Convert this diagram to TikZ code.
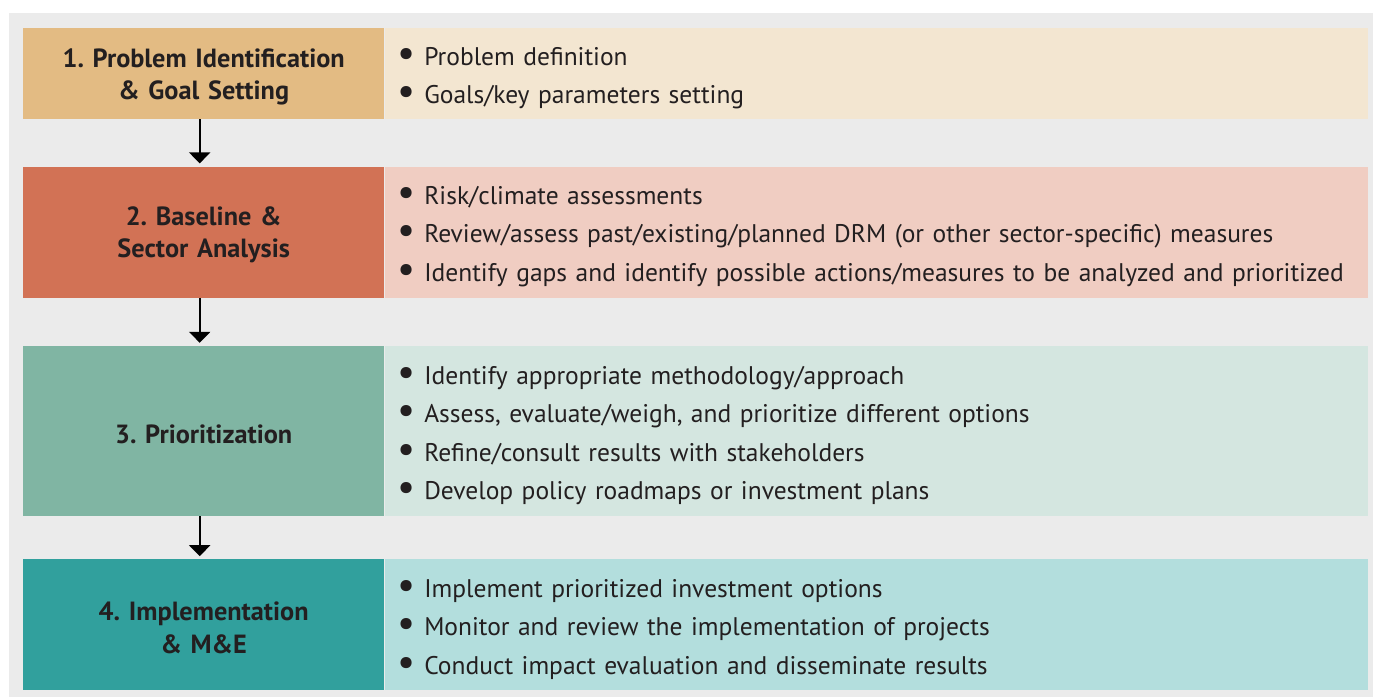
\documentclass[tikz,border=0pt]{standalone}
\usepackage{fontspec}
\setmainfont{PT Sans}
\usetikzlibrary{arrows.meta,positioning,shapes}
\definecolor{panel}{HTML}{EBEBEB}
\definecolor{ink}{HTML}{231F20}
\definecolor{goal}{HTML}{E3BB83}
\definecolor{goal2}{HTML}{F3E6D1}
\definecolor{base}{HTML}{D27255}
\definecolor{base2}{HTML}{F0CDC2}
\definecolor{prio}{HTML}{80B5A3}
\definecolor{prio2}{HTML}{D4E6E0}
\definecolor{impl}{HTML}{31A09D}
\definecolor{impl2}{HTML}{B3DEDD}
\newcommand{\itm}[1]{\raisebox{-1pt}{\fontsize{40}{39}\selectfont\textbullet}\hspace{8.6pt}#1}
\frenchspacing
\tikzset{
    %Define standard arrow tip
    >={Triangle[width=21pt,length=11pt]},
    %Define style for step boxes
    stage/.style={
        rectangle,
        minimum width=361pt,
        text width=345pt,
        inner sep=0pt,
        align=center,
        font=\fontsize{26.3}{32.3}\selectfont\bfseries,
        execute at begin node={\rule{0pt}{24.5pt}},
        text=ink
    },
    %Define style for task lists
    tasks/.style={
        rectangle,
        anchor=west,
        minimum width=983pt,
        text width=957pt,
        inner xsep=12.6pt,
        inner ysep=0pt,
        align=left,
        font=\fontsize{25.5}{38.5}\selectfont,
        execute at begin node={\rule{0pt}{27pt}},
        text=ink
    },
    % Define arrow style
    pil/.style={
        ->,
        line width=2pt,
        shorten >=3pt}
}
\begin{document}
\begin{tikzpicture}[x=1pt,y=1pt]
\useasboundingbox (0,0) rectangle (1373,-697);
\fill[panel] (9,-13) rectangle (1373,-697);
\node[stage, fill=goal, minimum height=91pt, anchor=north west] (s1) at (23,-28)
    {1. Problem Identification\\ \& Goal Setting};
\node[stage, fill=base, minimum height=131pt, below=47pt of s1] (s2)
    {2. Baseline \&\\ Sector Analysis};
\node[stage, fill=prio, minimum height=170pt, below=48pt of s2] (s3)
    {3. Prioritization};
\node[stage, fill=impl, minimum height=131pt, below=43pt of s3] (s4)
    {4. Implementation\\ \& M\&E};
\node[tasks, fill=goal2, minimum height=91pt] (t1) at (s1.east)
    {\itm{Problem definition}\\
     \itm{Goals/key parameters setting}};
\node[tasks, fill=base2, minimum height=131pt] (t2) at (s2.east)
    {\itm{Risk/climate assessments}\\
     \itm{Review/assess past/existing/planned DRM (or other sector-specific) measures}\\
     \itm{Identify gaps and identify possible actions/measures to be analyzed and prioritized}};
\node[tasks, fill=prio2, minimum height=170pt] (t3) at (s3.east)
    {\itm{Identify appropriate methodology/approach}\\
     \itm{Assess, evaluate/weigh, and prioritize different options}\\
     \itm{Refine/consult results with stakeholders}\\
     \itm{Develop policy roadmaps or investment plans}};
\node[tasks, fill=impl2, minimum height=131pt] (t4) at (s4.east)
    {\itm{Implement prioritized investment options}\\
     \itm{Monitor and review the implementation of projects}\\
     \itm{Conduct impact evaluation and disseminate results}};
\draw[pil] ([xshift=-4pt]s1.south) -- ([xshift=-4pt]s2.north);
\draw[pil] ([xshift=-4pt]s2.south) -- ([xshift=-4pt]s3.north);
\draw[pil] ([xshift=-4pt]s3.south) -- ([xshift=-4pt]s4.north);
\end{tikzpicture}
\end{document}
